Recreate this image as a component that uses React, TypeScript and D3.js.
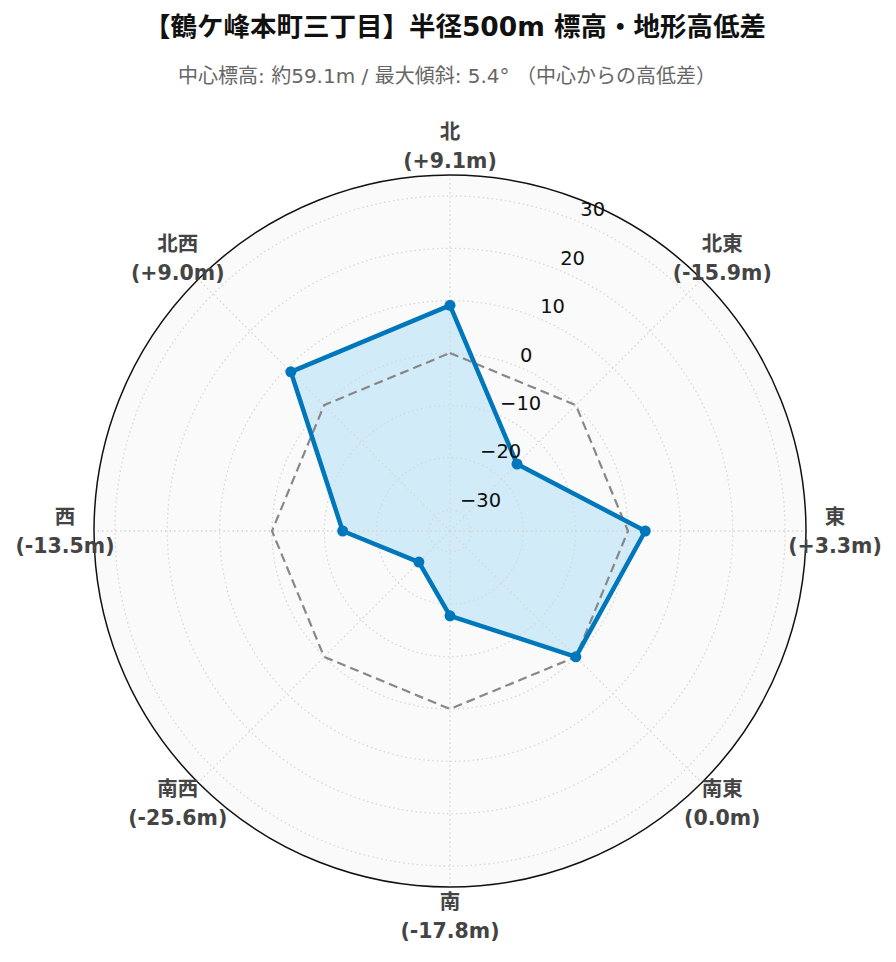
import React from "react";
import * as d3 from "d3";

const directions = ["北", "北東", "東", "南東", "南", "南西", "西", "北西"];
const diffs = [9.1, -15.9, 3.3, 0.0, -17.8, -25.6, -13.5, 9.0];
const radialTicks = [-30, -20, -10, 0, 10, 20, 30];
const radialDomain = [-34, 34];
const titleText = "【鶴ケ峰本町三丁目】半径500m 標高・地形高低差";
const subtitleText = "中心標高: 約59.1m / 最大傾斜: 5.4° （中心からの高低差）";

const W = 896;
const H = 962;
const cx = 450;
const cy = 531;
const R = 356;

const fmt = (v: number) => (v > 0 ? `+${v.toFixed(1)}m` : `${v.toFixed(1)}m`);

export default function App() {
  const r = d3.scaleLinear().domain(radialDomain).range([0, R]);
  const angle = d3
    .scalePoint<string>()
    .domain(directions)
    .range([0, 2 * Math.PI * (7 / 8)]);

  const pt = (a: number, rad: number): [number, number] => [
    cx + rad * Math.sin(a),
    cy - rad * Math.cos(a),
  ];

  const lineGen = d3
    .lineRadial<number>()
    .angle((_, i) => angle(directions[i]) as number)
    .radius((d) => r(d))
    .curve(d3.curveLinearClosed);

  const dataPath = lineGen(diffs) || "";
  const zeroPath = lineGen(diffs.map(() => 0)) || "";
  const fontMix = "'DejaVu Sans', 'Noto Sans CJK JP', sans-serif";
  const tickAngle = Math.PI / 8;

  return (
    <svg
      width={W}
      height={H}
      style={{ position: "absolute", left: 0, top: 0, background: "#fff" }}
    >
      <text
        x={455}
        y={36}
        textAnchor="middle"
        fontFamily={fontMix}
        fontWeight={700}
        fontSize={26.5}
        fill="#111"
      >
        {titleText}
      </text>
      <text
        x={447}
        y={83}
        textAnchor="middle"
        fontFamily={fontMix}
        fontSize={20}
        fill="#666"
      >
        {subtitleText}
      </text>

      <circle cx={cx} cy={cy} r={R} fill="#fafafa" />

      <g transform={`translate(${cx},${cy})`}>
        <path d={dataPath} fill="#8dd2f7" fillOpacity={0.38} />
      </g>

      {radialTicks.map((t) => (
        <circle
          key={t}
          cx={cx}
          cy={cy}
          r={r(t)}
          fill="none"
          stroke="#d8d8d8"
          strokeWidth={1.3}
          strokeDasharray="1.5,3"
        />
      ))}
      {directions.map((d) => {
        const [x2, y2] = pt(angle(d) as number, R);
        return (
          <line
            key={d}
            x1={cx}
            y1={cy}
            x2={x2}
            y2={y2}
            stroke="#d8d8d8"
            strokeWidth={1.3}
            strokeDasharray="1.5,3"
          />
        );
      })}

      <g transform={`translate(${cx},${cy})`}>
        <path
          d={zeroPath}
          fill="none"
          stroke="#888"
          strokeWidth={2.2}
          strokeDasharray="9,5"
        />
        <path
          d={dataPath}
          fill="none"
          stroke="#0077BB"
          strokeWidth={4.5}
          strokeLinejoin="round"
        />
      </g>
      {diffs.map((v, i) => {
        const [x, y] = pt(angle(directions[i]) as number, r(v));
        return <circle key={i} cx={x} cy={y} r={5.5} fill="#0077BB" />;
      })}

      <circle cx={cx} cy={cy} r={R} fill="none" stroke="#111" strokeWidth={1.5} />

      {radialTicks.map((t) => {
        const [x, y] = pt(tickAngle, r(t));
        return (
          <text
            key={t}
            x={x + 2}
            y={y - 5}
            fontFamily="'DejaVu Sans', sans-serif"
            fontSize={19.5}
            fill="#111"
          >
            {t < 0 ? `\u2212${Math.abs(t)}` : `${t}`}
          </text>
        );
      })}

      {directions.map((d, i) => {
        const [x, y] = pt(angle(d) as number, 385);
        return (
          <g key={d} fontFamily={fontMix} fontWeight={700} fontSize={20.5} fill="#444">
            <text x={x} y={y - 7.5} textAnchor="middle">
              {d}
            </text>
            <text x={x} y={y + 21.5} textAnchor="middle">
              ({fmt(diffs[i])})
            </text>
          </g>
        );
      })}
    </svg>
  );
}
